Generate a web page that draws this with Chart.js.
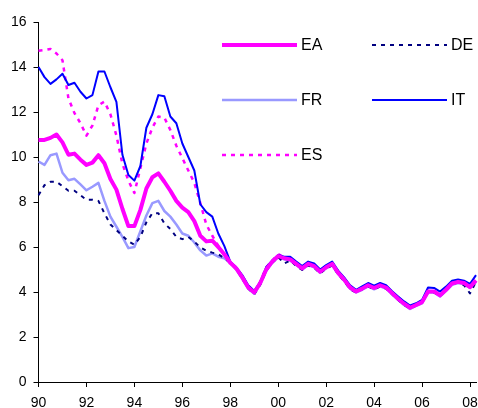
<!DOCTYPE html>
<html>
<head>
<meta charset="utf-8">
<script src="https://cdn.jsdelivr.net/npm/chart.js@4.4.1/dist/chart.umd.min.js"></script>
<style>
  html, body { margin: 0; padding: 0; background: #fff; }
  canvas { display: block; }
</style>
</head>
<body>
<canvas id="rates" width="478" height="408"></canvas>
<script>
// quarterly, 1990Q1 .. 2008Q2
const firstYear = 1990, lastYear = 2008, lastQuarter = 2;
const xTickLabels = ['90', '92', '94', '96', '98', '00', '02', '04', '06', '08'];
const yTicks = [0, 2, 4, 6, 8, 10, 12, 14, 16];

const EA = [10.76, 10.76, 10.85, 11.0, 10.65, 10.1, 10.15, 9.88, 9.65, 9.75, 10.08, 9.72, 9.02, 8.55, 7.7, 6.93, 6.93,
  7.65, 8.6, 9.1, 9.27, 8.9, 8.5, 8.05, 7.75, 7.55, 7.15, 6.5, 6.25, 6.28, 6.0, 5.68, 5.3,
  5.05, 4.65, 4.2, 3.98, 4.4, 5.0, 5.35, 5.6, 5.5, 5.45, 5.25, 5.05, 5.25, 5.15, 4.9, 5.1, 5.25, 4.85, 4.55, 4.2,
  4.02, 4.15, 4.3, 4.18, 4.3, 4.2, 3.95, 3.7, 3.48, 3.3, 3.42, 3.55, 4.02, 4.02, 3.85, 4.1, 4.38, 4.45, 4.4, 4.22, 4.52];
const DE = [8.3, 8.75, 8.9, 8.9, 8.7, 8.5, 8.5, 8.3, 8.1, 8.1, 8.05, 7.5, 7.0, 6.75, 6.5, 6.25, 6.1,
  6.45, 7.1, 7.5, 7.5, 7.05, 6.8, 6.45, 6.35, 6.45, 6.24, 5.98, 5.83, 5.75, 5.68, 5.5, 5.3,
  5.0, 4.6, 4.15, 3.9, 4.32, 4.95, 5.3, 5.55, 5.27, 5.4, 5.15, 4.98, 5.18, 5.08, 4.82, 5.05, 5.18, 4.78, 4.48, 4.12,
  3.98, 4.12, 4.25, 4.12, 4.25, 4.15, 3.9, 3.65, 3.42, 3.28, 3.4, 3.55, 3.98, 3.98, 3.82, 4.08, 4.35, 4.42, 4.3, 3.94, 4.45];
const FR = [9.8, 9.65, 10.08, 10.15, 9.3, 8.97, 9.03, 8.78, 8.52, 8.68, 8.85, 8.05, 7.35, 6.9, 6.45, 5.95, 6.0,
  6.7, 7.4, 7.95, 8.05, 7.6, 7.35, 7.0, 6.6, 6.5, 6.2, 5.85, 5.62, 5.72, 5.57, 5.5, 5.3,
  5.0, 4.6, 4.15, 3.92, 4.35, 4.95, 5.3, 5.55, 5.45, 5.4, 5.2, 5.0, 5.2, 5.1, 4.85, 5.05, 5.2, 4.8, 4.5, 4.15,
  3.98, 4.1, 4.25, 4.12, 4.25, 4.15, 3.9, 3.65, 3.42, 3.25, 3.38, 3.5, 3.98, 3.98, 3.8, 4.05, 4.32, 4.4, 4.35, 4.18, 4.45];
const IT = [14.0, 13.55, 13.25, 13.45, 13.7, 13.2, 13.3, 12.9, 12.6, 12.75, 13.8, 13.8, 13.1, 12.45, 10.1, 9.2, 8.95,
  9.6, 11.3, 11.9, 12.75, 12.7, 11.8, 11.5, 10.6, 10.0, 9.4, 7.9, 7.55, 7.35, 6.6, 6.05, 5.35,
  5.1, 4.75, 4.3, 4.05, 4.45, 5.1, 5.4, 5.65, 5.57, 5.57, 5.35, 5.15, 5.35, 5.27, 5.0, 5.2, 5.35, 4.95, 4.65, 4.3,
  4.1, 4.25, 4.4, 4.28, 4.4, 4.3, 4.03, 3.8, 3.58, 3.4, 3.5, 3.65, 4.2, 4.18, 4.02, 4.24, 4.5, 4.56, 4.5, 4.36, 4.75];
const ES = [14.72, 14.75, 14.8, 14.6, 14.3, 12.6, 11.95, 11.5, 10.95, 11.4, 12.3, 12.46, 11.9, 10.95, 9.7, 8.95, 8.4,
  9.5, 10.6, 11.3, 11.8, 11.75, 11.2, 10.5, 9.95, 9.4, 8.85, 7.95, 7.0, 6.5, 6.05, 5.65, 5.27,
  5.1, 4.7, 4.25, 4.0, 4.45, 5.1, 5.4, 5.68, 5.55, 5.5, 5.3, 5.1, 5.3, 5.2, 4.95, 5.15, 5.3, 4.9, 4.6, 4.25,
  4.05, 4.2, 4.35, 4.22, 4.35, 4.25, 3.98, 3.75, 3.52, 3.33, 3.45, 3.6, 4.05, 4.05, 3.88, 4.15, 4.42, 4.5, 4.45, 4.28, 4.55];

const quarters = [];
for (let y = firstYear; y <= lastYear; y++) {
  for (let q = 1; q <= 4; q++) {
    if (y === lastYear && q > lastQuarter) break;
    quarters.push(y + 'Q' + q);
  }
}

const FONT = "'Liberation Sans', Arial, sans-serif";

// legend drawn inside the plot, two columns
const legendSlots = [[222, 45], [372, 45], [222, 100], [372, 100], [222, 155]];
const insideLegend = {
  id: 'insideLegend',
  afterDraw(chart) {
    const ctx = chart.ctx;
    chart.data.datasets.forEach((ds, i) => {
      const [x, y] = legendSlots[i];
      ctx.save();
      ctx.strokeStyle = ds.borderColor;
      ctx.lineWidth = ds.borderWidth;
      ctx.setLineDash(ds.borderDash || []);
      ctx.beginPath();
      ctx.moveTo(x, y);
      ctx.lineTo(x + 75, y);
      ctx.stroke();
      ctx.setLineDash([]);
      ctx.fillStyle = '#000';
      ctx.font = '16px ' + FONT;
      ctx.textBaseline = 'middle';
      ctx.fillText(ds.label, x + 79, y + 0.5);
      ctx.restore();
    });
  }
};

const ctx = document.getElementById('rates').getContext('2d');
new Chart(ctx, {
  type: 'line',
  data: {
    labels: quarters,
    datasets: [
      { label: 'EA', data: EA, borderColor: '#FF00FF', borderWidth: 4 },
      { label: 'DE', data: DE, borderColor: '#000080', borderWidth: 2, borderDash: [4, 5] },
      { label: 'FR', data: FR, borderColor: '#9999FF', borderWidth: 2.5 },
      { label: 'IT', data: IT, borderColor: '#0000FF', borderWidth: 2 },
      { label: 'ES', data: ES, borderColor: '#FF00FF', borderWidth: 2.5, borderDash: [4, 5] }
    ]
  },
  options: {
    responsive: false,
    animation: false,
    layout: { padding: { top: 22, right: 2, left: 0, bottom: 0 } },
    elements: {
      point: { radius: 0 },
      line: { tension: 0, fill: false, borderJoinStyle: 'round' }
    },
    plugins: {
      legend: { display: false },
      tooltip: { enabled: false }
    },
    scales: {
      x: {
        offset: false,
        grid: { drawOnChartArea: false, drawTicks: true, tickLength: 5, color: '#000' },
        border: { color: '#000', width: 1 },
        ticks: {
          autoSkip: false,
          maxRotation: 0,
          padding: 8,
          color: '#000',
          font: { family: FONT, size: 14 },
          callback: (v, i) => {
            const q = quarters[i];
            const yy = q.slice(2, 4);
            return q.endsWith('Q1') && xTickLabels.includes(yy) ? yy : null;
          }
        },
        afterFit: s => { s.height = 26; s.paddingLeft = 0; s.paddingRight = 0; }
      },
      y: {
        min: yTicks[0],
        max: yTicks[yTicks.length - 1],
        grid: { drawOnChartArea: false, drawTicks: true, tickLength: 5, color: '#000' },
        border: { color: '#000', width: 1 },
        afterBuildTicks: s => { s.ticks = yTicks.map(v => ({ value: v })); },
        ticks: {
          padding: 7,
          color: '#000',
          font: { family: FONT, size: 14 }
        },
        afterFit: s => { s.width = 38.5; }
      }
    }
  },
  plugins: [insideLegend]
});
</script>
</body>
</html>
